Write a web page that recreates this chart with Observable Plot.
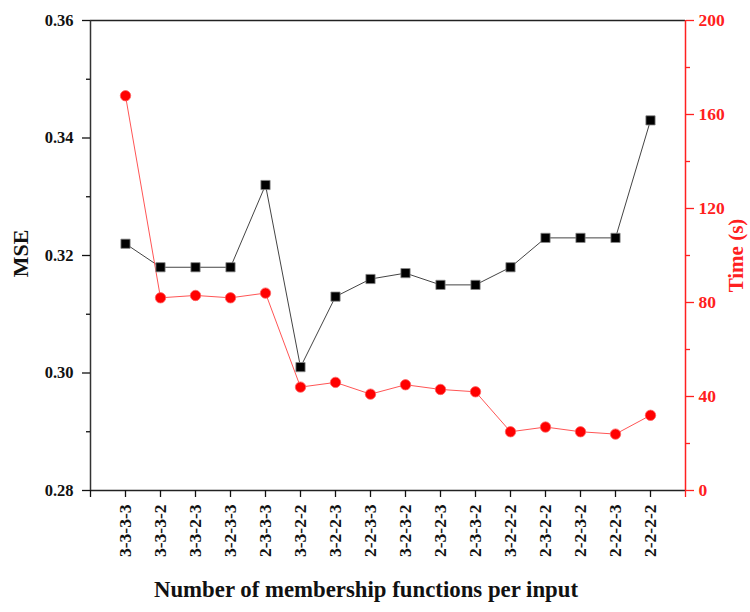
<!DOCTYPE html>
<html>
<head>
<meta charset="utf-8">
<script src="https://cdn.jsdelivr.net/npm/d3@7"></script>
<script src="https://cdn.jsdelivr.net/npm/@observablehq/plot@0.6"></script>
<style>
  html, body { margin: 0; padding: 0; background: #fff; }
  #chart svg { display: block; }
</style>
</head>
<body>
<div id="chart"></div>
<script>
const categories = ["3-3-3-3","3-3-3-2","3-3-2-3","3-2-3-3","2-3-3-3","3-3-2-2","3-2-2-3","2-2-3-3",
                    "3-2-3-2","2-3-2-3","2-3-3-2","3-2-2-2","2-3-2-2","2-2-3-2","2-2-2-3","2-2-2-2"];
const mseValues = [0.322,0.318,0.318,0.318,0.332,0.301,0.313,0.316,0.317,0.315,0.315,0.318,0.323,0.323,0.323,0.343];
const timeValues = [168,82,83,82,84,44,46,41,45,43,42,25,27,25,24,32];
const mseTicks = [0.28,0.30,0.32,0.34,0.36];
const mseMinor = [0.29,0.31,0.33,0.35];
const timeTicks = [0,40,80,120,160,200];
const timeMinor = [20,60,100,140,180];

const mseDomain = [0.28, 0.36];
const timeDomain = [0, 200];
// map time onto the MSE scale (secondary axis)
const t2m = t => mseDomain[0] + (t - timeDomain[0]) * (mseDomain[1] - mseDomain[0]) / (timeDomain[1] - timeDomain[0]);
const m2t = m => Math.round(timeDomain[0] + (m - mseDomain[0]) * (timeDomain[1] - timeDomain[0]) / (mseDomain[1] - mseDomain[0]));

const data = categories.map((c, i) => ({i, c, mse: mseValues[i], time: t2m(timeValues[i])}));
const xStart = -1, xEnd = categories.length;

const chart = Plot.plot({
  width: 750,
  height: 612,
  marginLeft: 90,
  marginRight: 65,
  marginTop: 20,
  marginBottom: 122,
  x: {type: "linear", domain: [xStart, xEnd]},
  y: {domain: mseDomain},
  style: {fontFamily: "'Liberation Serif', 'Times New Roman', serif", fontWeight: "bold", background: "#fff", color: "#111"},
  marks: [
    // frame lines
    Plot.ruleY([mseDomain[1]], {stroke: "#222", strokeWidth: 1.5}),
    Plot.ruleY([mseDomain[0]], {stroke: "#222", strokeWidth: 1.5}),
    Plot.ruleX([xStart], {stroke: "#333", strokeWidth: 1.5}),
    Plot.ruleX([xEnd], {stroke: "#ff2020", strokeWidth: 1.5}),
    // left axis
    Plot.axisY({ticks: mseTicks, tickFormat: d3.format(".2f"), tickSize: 8, tickPadding: 9, fontSize: 16.5, label: null, strokeWidth: 1.3}),
    Plot.axisY({ticks: mseMinor, tickFormat: () => "", tickSize: 4, label: null, strokeWidth: 1.3}),
    // right axis (time)
    Plot.axisY({anchor: "right", ticks: timeTicks.map(t2m), tickFormat: m2t, tickSize: 8, tickPadding: 5, fontSize: 17.5, label: null, color: "#ff2020", strokeWidth: 1.3}),
    Plot.axisY({anchor: "right", ticks: timeMinor.map(t2m), tickFormat: () => "", tickSize: 4, label: null, color: "#ff2020", strokeWidth: 1.3}),
    // bottom axis
    Plot.axisX({ticks: d3.range(categories.length), tickFormat: i => categories[i], tickRotate: -90, tickSize: 7, tickPadding: 7, fontSize: 17.5, label: null, strokeWidth: 1.3}),
    Plot.axisX({ticks: [xStart], tickFormat: () => "", tickSize: 7, label: null, strokeWidth: 1.3}),
    Plot.axisX({ticks: [xEnd], tickFormat: () => "", tickSize: 7, label: null, color: "#ff2020", strokeWidth: 1.3}),
    // axis titles
    Plot.text(["MSE"], {frameAnchor: "left", textAnchor: "middle", dx: -70, dy: -2, rotate: -90, fontSize: 22, fontWeight: "bold", fill: "#111"}),
    Plot.text(["Time (s)"], {frameAnchor: "right", textAnchor: "middle", dx: 51, rotate: -90, fontSize: 21, fontWeight: "bold", fill: "#ff2020"}),
    Plot.text(["Number of membership functions per input"], {frameAnchor: "bottom", textAnchor: "middle", dx: -22, dy: 106, fontSize: 22.8, fontWeight: "bold", fill: "#111"}),
    // series
    Plot.line(data, {x: "i", y: "mse", stroke: "#444", strokeWidth: 1}),
    Plot.line(data, {x: "i", y: "time", stroke: "#ff5555", strokeWidth: 1}),
    Plot.dot(data, {x: "i", y: "time", r: 5.2, fill: "#ff0000", stroke: "#ff6060", strokeWidth: 0.8}),
    Plot.dot(data, {x: "i", y: "mse", symbol: "square", r: 5.2, fill: "#000", stroke: "#888", strokeWidth: 0.8})
  ]
});
document.getElementById("chart").appendChild(chart);
</script>
</body>
</html>
